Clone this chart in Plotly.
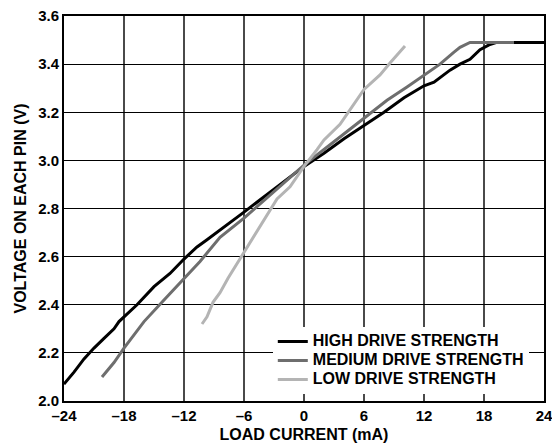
import plotly.graph_objects as go

# load current (mA) and pin voltage (V)
high_i = [-24, -23, -22, -21, -20, -19, -18.5, -17.5, -16.7, -15, -13.4, -12, -10.7, -9.7, -8.4,
          -6, -3, 0, 2, 4, 6, 8, 10, 12, 13, 14.6, 15.6, 16.6, 17.6, 18.5, 19.2, 20, 22, 24]
high_v = [2.07, 2.12, 2.175, 2.22, 2.26, 2.30, 2.33, 2.37, 2.40, 2.475, 2.53, 2.59, 2.64, 2.67, 2.71,
          2.785, 2.88, 2.975, 3.03, 3.09, 3.145, 3.20, 3.26, 3.31, 3.325, 3.375, 3.40, 3.42, 3.46, 3.48,
          3.49, 3.49, 3.49, 3.49]

med_i = [-20.2, -19, -18, -16, -14, -12, -10.4, -8.4, -6, -3, 0, 2, 4, 6, 8.3, 10.3, 12, 13.6,
         15, 15.6, 16.6, 18, 21]
med_v = [2.10, 2.16, 2.22, 2.33, 2.42, 2.51, 2.58, 2.68, 2.76, 2.87, 2.98, 3.045, 3.11, 3.175,
         3.25, 3.305, 3.355, 3.40, 3.45, 3.47, 3.49, 3.49, 3.49]

low_i = [-10.2, -9.7, -9.1, -8.4, -7.6, -6.1, -4.5, -2.7, -1.4, 0, 1.3, 2, 3.6, 4.4, 6, 7.6, 8.6, 10.1]
low_v = [2.32, 2.35, 2.41, 2.45, 2.51, 2.61, 2.72, 2.84, 2.89, 2.975, 3.045, 3.085, 3.15, 3.20,
         3.295, 3.355, 3.405, 3.475]

x_ticks = [-24, -18, -12, -6, 0, 6, 12, 18, 24]
x_labels = ["–24", "–18", "–12", "–6", "0", "6", "12", "18", "24"]
y_ticks = [2.0, 2.2, 2.4, 2.6, 2.8, 3.0, 3.2, 3.4, 3.6]

FAM = "Liberation Sans, Arial, sans-serif"
tick_font = dict(family=FAM, size=15, color="black", weight="bold")
title_font = dict(family=FAM, size=16, color="black", weight="bold")
# legend spacing follows the legend font size, the text itself is drawn bigger
leg_font = dict(family=FAM, size=12, color="black", weight="bold")


def big(s):
    return "<span style='font-size:16px'>" + s + "</span>"


fig = go.Figure()
fig.add_trace(go.Scatter(x=high_i, y=high_v, mode="lines", name=big("HIGH DRIVE STRENGTH"),
                         line=dict(color="black", width=3)))
fig.add_trace(go.Scatter(x=med_i, y=med_v, mode="lines", name=big("MEDIUM DRIVE STRENGTH"),
                         line=dict(color="#6e6e6e", width=3)))
fig.add_trace(go.Scatter(x=low_i, y=low_v, mode="lines", name=big("LOW DRIVE STRENGTH"),
                         line=dict(color="#b4b4b4", width=3)))

fig.update_layout(
    width=552, height=446,
    margin=dict(l=64, r=8, t=16, b=45),
    plot_bgcolor="white", paper_bgcolor="white",
    font=tick_font,
    legend=dict(x=0.435, y=0.192, xanchor="left", yanchor="top", bgcolor="white",
                font=leg_font, borderwidth=0, tracegroupgap=0),
)
fig.update_xaxes(range=[-24, 24], tickvals=x_ticks, ticktext=x_labels,
                 showgrid=True, gridcolor="#4a4a4a", gridwidth=1.6,
                 showline=True, linecolor="black", linewidth=2, mirror=True,
                 ticks="", zeroline=False, tickfont=tick_font, automargin=False,
                 ticklabeloverflow="allow",
                 title=dict(text="LOAD CURRENT (mA)", font=title_font, standoff=6))
fig.update_yaxes(range=[2.0, 3.6], tickvals=y_ticks, tickformat=".1f",
                 showgrid=True, gridcolor="black", gridwidth=1.3,
                 showline=True, linecolor="black", linewidth=2, mirror=True,
                 ticks="", zeroline=False, tickfont=tick_font, automargin=False,
                 ticklabeloverflow="allow",
                 title=dict(text="VOLTAGE ON EACH PIN (V)", font=title_font, standoff=8))

fig.write_html("out.html", config={"displayModeBar": False},
               post_script="document.body.style.margin='0';")
